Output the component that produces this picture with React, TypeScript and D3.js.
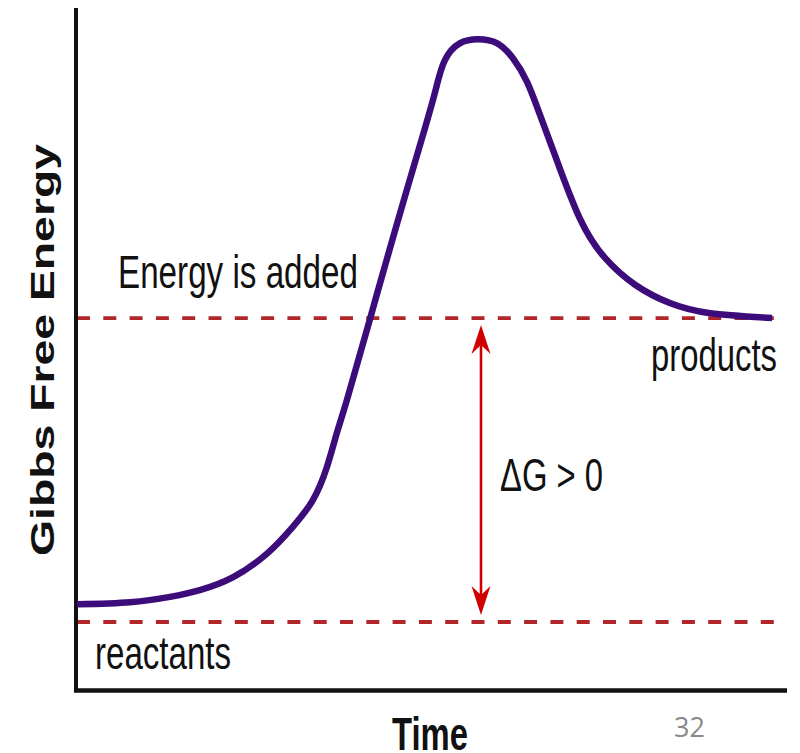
import React from "react";
import * as d3 from "d3";

// Reaction progress (time, 0..100) and Gibbs free energy (0..100, arbitrary units)
const timeValues = [0, 7.5, 13.1, 17.3, 22.0, 26.8, 30.4, 33.2, 35.2, 36.6, 38.0, 41.3, 44.8, 49.0, 50.6, 51.8, 53.9, 56.5, 59.2, 61.4, 63.4, 65.2, 67.3, 70.8, 74.4, 78.6, 83.5, 89.2, 97.9];
const energyValues = [12.6, 12.9, 13.7, 14.7, 16.6, 20.1, 24.0, 27.9, 32.8, 37.8, 42.6, 54.7, 67.6, 82.6, 88.6, 92.6, 95.1, 95.7, 95.1, 92.9, 89.4, 84.6, 78.7, 69.4, 63.5, 59.6, 56.9, 55.4, 54.7];

const reactantLevel = 10;
const productLevel = 54.7;
const arrowTime = 56.9;

const labels = {
  yAxis: "Gibbs Free Energy",
  xAxis: "Time",
  added: "Energy is added",
  products: "products",
  reactants: "reactants",
  delta: "ΔG > 0",
  page: "32",
};

const W = 800;
const H = 753;
const K = 1.38; // vertical stretch of the original artwork

export default function App() {
  const x = d3.scaleLinear().domain([0, 100]).range([77, 787]);
  const y = d3.scaleLinear().domain([0, 100]).range([690, 10]);

  const pts: [number, number][] = timeValues.map((t, i) => [t, energyValues[i]]);
  const line = d3
    .line<[number, number]>()
    .x((d) => x(d[0]))
    .y((d) => y(d[1]))
    .curve(d3.curveNatural);

  const ax = x(arrowTime);
  const yTop = y(productLevel) + 7;
  const yBot = y(reactantLevel) - 7;
  const headL = 29;
  const headW = 9.5;
  const notch = 9;

  const font = "'Liberation Sans', Arial, Helvetica, sans-serif";
  const textColor = "#111";
  const dashColor = "#b0262a";

  const stretched = (tx: number, ty: number, txt: string, len: number, size: number, bold = false) => (
    <text
      transform={`translate(${tx},${ty}) scale(1,${K})`}
      fontFamily={font}
      fontSize={size}
      fontWeight={bold ? "bold" : "normal"}
      fill={textColor}
      textLength={len}
      lengthAdjust="spacingAndGlyphs"
    >
      {txt}
    </text>
  );

  return (
    <svg
      width={W}
      height={H}
      viewBox={`0 0 ${W} ${H}`}
      style={{ position: "fixed", left: 0, top: 0, background: "#fff" }}
    >
      <rect x={0} y={0} width={W} height={H} fill="#fff" />

      {/* dashed energy levels */}
      {[productLevel, reactantLevel].map((lv) => (
        <line
          key={lv}
          x1={x(0)}
          x2={x(100)}
          y1={y(lv)}
          y2={y(lv)}
          stroke={dashColor}
          strokeWidth={3.8}
          strokeDasharray="13 13.3"
        />
      ))}

      {/* axes */}
      <line x1={76} x2={76} y1={8} y2={692} stroke="#111" strokeWidth={4} />
      <line x1={74} x2={787} y1={690.5} y2={690.5} stroke="#111" strokeWidth={4.5} />

      {/* energy curve */}
      <path d={line(pts) || ""} fill="none" stroke="#3d0c7b" strokeWidth={6.5} />

      {/* delta G arrow */}
      <line x1={ax} x2={ax} y1={yTop + 20} y2={yBot - 20} stroke="#d00000" strokeWidth={2.6} />
      <path
        d={`M${ax},${yTop} L${ax + headW},${yTop + headL} L${ax},${yTop + headL - notch} L${ax - headW},${yTop + headL} Z`}
        fill="#d00000"
      />
      <path
        d={`M${ax},${yBot} L${ax + headW},${yBot - headL} L${ax},${yBot - headL + notch} L${ax - headW},${yBot - headL} Z`}
        fill="#d00000"
      />

      {/* labels */}
      {stretched(118, 288, labels.added, 240, 33)}
      {stretched(651, 371, labels.products, 126, 33)}
      {stretched(95, 669, labels.reactants, 136, 33)}
      {stretched(500, 491, labels.delta, 103, 33)}
      {stretched(392, 750, labels.xAxis, 76, 33, true)}

      <text
        transform={`translate(53.5,556) scale(1,${K}) rotate(-90)`}
        fontFamily={font}
        fontSize={33}
        fontWeight="bold"
        fill={textColor}
        textLength={412 / K}
        lengthAdjust="spacingAndGlyphs"
      >
        {labels.yAxis}
      </text>

      <text x={674} y={737} fontFamily="'Open Sans', 'Noto Sans', sans-serif" fontSize={27} fill="#8a8a8a">
        {labels.page}
      </text>
    </svg>
  );
}
